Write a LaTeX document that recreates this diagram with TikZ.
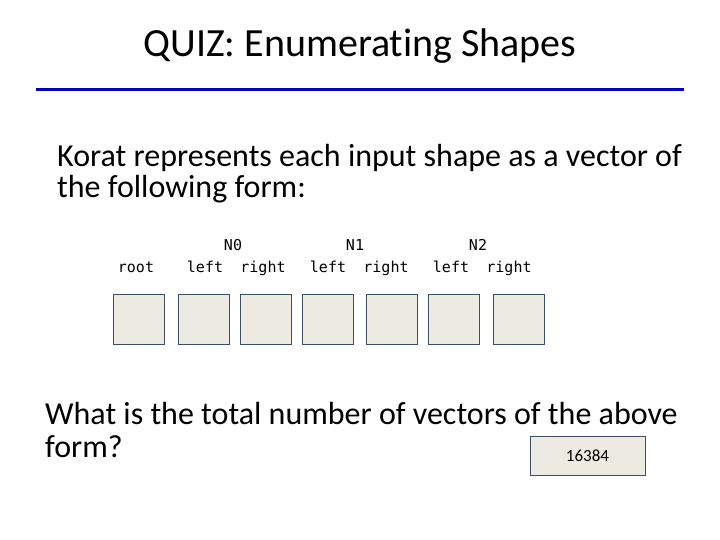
\documentclass[tikz,border=0pt]{standalone}
\usepackage{fontspec}
\setmainfont{Carlito}[Ligatures=NoCommon]
\setmonofont{DejaVu Sans Mono}
\usepackage{xcolor}
\definecolor{titleblue}{RGB}{0,0,192}
\definecolor{cellfill}{RGB}{236,234,225}
\definecolor{cellline}{RGB}{60,78,100}

\begin{document}
\begin{tikzpicture}[x=1pt,y=-1pt]
	\tikzstyle{every node}+=[inner sep=0pt]
	\tikzstyle{cell}=[draw=cellline,fill=cellfill,line width=1pt,minimum width=51pt,minimum height=50pt]
	\tikzstyle{fld}=[anchor=base,font=\fontsize{15}{17}\ttfamily]
	\tikzstyle{big}=[anchor=base west,font=\fontsize{32}{38}\selectfont]
	\useasboundingbox (0,0) rectangle (720,540);
	\node [anchor=base,font=\fontsize{40}{46}\selectfont] (title) at (360,57) {QUIZ: Enumerating Shapes};
	\coordinate (ruleL) at (36,90);
	\coordinate (ruleR) at (684,90);
	\draw [titleblue,line width=3pt] (ruleL) -- (ruleR);
	\node [big] (intro1) at (57,167) {Korat represents each input shape as a vector of};
	\node [big] (intro2) at (57,197) {the following form:};
	% the seven fields of the vector
	\foreach \x/\n in {138.5/root,203.5/lA,266/rA,327.5/lB,392/rB,453.5/lC,519/rC}
		\node [cell] (c\n) at (\x,319) {};
	\node [fld] (troot) at (136,272) {root};
	\node [fld] (tN0) at (233,250) {N0};
	\node [fld] (tlA) at (205,272) {left};
	\node [fld] (trA) at (263,272) {right};
	\node [fld] (tN1) at (355,250) {N1};
	\node [fld] (tlB) at (328,272) {left};
	\node [fld] (trB) at (386,272) {right};
	\node [fld] (tN2) at (478,250) {N2};
	\node [fld] (tlC) at (451,272) {left};
	\node [fld] (trC) at (509,272) {right};
	\node [big] (ask1) at (45,424) {What is the total number of vectors of the above};
	\node [big] (ask2) at (45,457) {form?};
	\node [cell,minimum width=115pt,minimum height=39pt] (answer) at (587.5,455.5) {\fontsize{17}{20}\selectfont 16384};
\end{tikzpicture}
\end{document}
